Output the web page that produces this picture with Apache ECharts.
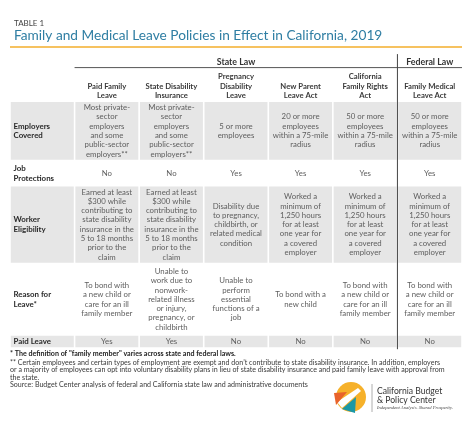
<!DOCTYPE html>
<html><head><meta charset="utf-8">
<script src="https://cdn.jsdelivr.net/npm/echarts@6/dist/echarts.min.js"></script>
<style>html,body{margin:0;padding:0;background:#fff}#c{width:474px;height:426px}</style>
</head><body><div id="c"></div>
<script>
// ---- data ----
const tableLabel = 'TABLE 1';
const titleText = 'Family and Medical Leave Policies in Effect in California, 2019';
const columns = ['', 'Paid Family\nLeave', 'State Disability\nInsurance', 'Pregnancy\nDisability\nLeave', 'New Parent\nLeave Act', 'California\nFamily Rights\nAct', 'Family Medical\nLeave Act'];
const groups = [['State Law', 1, 5], ['Federal Law', 6, 6]];
const rowLabels = ['Employers\nCovered', 'Job\nProtections', 'Worker\nEligibility', 'Reason for\nLeave*', 'Paid Leave'];
const shadedRows = [true, false, true, false, true];
const employersCovered = [
  'Most private-\nsector\nemployers\nand some\npublic-sector\nemployers**',
  'Most private-\nsector\nemployers\nand some\npublic-sector\nemployers**',
  '5 or more\nemployees',
  '20 or more\nemployees\nwithin a 75-mile\nradius',
  '50 or more\nemployees\nwithin a 75-mile\nradius',
  '50 or more\nemployees\nwithin a 75-mile\nradius'
];
const jobProtections = ['No', 'No', 'Yes', 'Yes', 'Yes', 'Yes'];
const workerEligibility = [
  'Earned at least\n$300 while\ncontributing to\nstate disability\ninsurance in the\n5 to 18 months\nprior to the\nclaim',
  'Earned at least\n$300 while\ncontributing to\nstate disability\ninsurance in the\n5 to 18 months\nprior to the\nclaim',
  'Disability due\nto pregnancy,\nchildbirth, or\nrelated medical\ncondition',
  'Worked a\nminimum of\n1,250 hours\nfor at least\none year for\na covered\nemployer',
  'Worked a\nminimum of\n1,250 hours\nfor at least\none year for\na covered\nemployer',
  'Worked a\nminimum of\n1,250 hours\nfor at least\none year for\na covered\nemployer'
];
const reasonForLeave = [
  'To bond with\na new child or\ncare for an ill\nfamily member',
  'Unable to\nwork due to\nnonwork-\nrelated illness\nor injury,\npregnancy, or\nchildbirth',
  'Unable to\nperform\nessential\nfunctions of a\njob',
  'To bond with a\nnew child',
  'To bond with\na new child or\ncare for an ill\nfamily member',
  'To bond with\na new child or\ncare for an ill\nfamily member'
];
const paidLeave = ['Yes', 'Yes', 'No', 'No', 'No', 'No'];
const footnotes = [
  '* The definition of "family member" varies across state and federal laws.',
  '** Certain employees and certain types of employment are exempt and don\u2019t contribute to state disability insurance. In addition, employers',
  'or a majority of employees can opt into voluntary disability plans in lieu of state disability insurance and paid family leave with approval from',
  'the state.',
  'Source: Budget Center analysis of federal and California state law and administrative documents'
];
const logoLines = ['California Budget', '& Policy Center'];
const logoTagline = 'Independent Analysis. Shared Prosperity.';

// ---- build table structure ----
const bodyRows = [employersCovered, jobProtections, workerEligibility, reasonForLeave, paidLeave];
const FONT = 'Lato, "Open Sans", sans-serif';
const nLines = s => s.split('\n').length;
const PAD = 0.22, GAP = 0.32;
const rowHeights = [Math.max(...columns.map(nLines)) + PAD];
bodyRows.forEach((r, i) => rowHeights.push(Math.max(nLines(rowLabels[i]), ...r.map(nLines)) + PAD));
const rowTop = [], rowBot = [];
let acc = 0;
rowHeights.forEach((h, i) => { rowTop.push(acc); acc += h; rowBot.push(acc); acc += GAP; });
const total = rowBot[rowBot.length - 1];

const cells = [];
columns.forEach((c, ci) => cells.push({ value: [ci, 0], text: c, header: true }));
bodyRows.forEach((r, ri) => {
  cells.push({ value: [0, ri + 1], text: rowLabels[ri], label: true, shade: shadedRows[ri] });
  r.forEach((t, ci) => cells.push({ value: [ci + 1, ri + 1], text: t, shade: shadedRows[ri] }));
});

const LH = 9.3;
function renderCell(params, api) {
  const d = cells[params.dataIndex];
  const c = api.value(0), r = api.value(1);
  const bw = api.size([1, 0])[0];
  const pT = api.coord([c, rowTop[r]]);
  const pB = api.coord([c, rowBot[r]]);
  const left = pT[0] - bw / 2;
  const children = [];
  if (d.shade) {
    children.push({ type: 'rect', shape: { x: left + 0.8, y: pT[1], width: bw - 1.6, height: pB[1] - pT[1] }, style: { fill: '#e6e6e6' } });
  }
  if (d.header) {
    children.push({ type: 'text', style: { text: d.text, x: pT[0], y: pB[1] + 1, align: 'center', verticalAlign: 'bottom', fontFamily: FONT, fontWeight: 'bold', fontSize: 7.7, lineHeight: LH, fill: '#3a3a3a' } });
  } else if (d.label) {
    children.push({ type: 'text', style: { text: d.text, x: left + 3.5, y: (pT[1] + pB[1]) / 2, align: 'left', verticalAlign: 'middle', fontFamily: FONT, fontWeight: 'bold', fontSize: 7.9, lineHeight: LH + 0.6, fill: '#2a2a2a' } });
  } else {
    children.push({ type: 'text', style: { text: d.text, x: pT[0], y: (pT[1] + pB[1]) / 2, align: 'center', verticalAlign: 'middle', fontFamily: FONT, fontSize: 7.8, lineHeight: LH, fill: '#5e5e5e' } });
  }
  return { type: 'group', children };
}

function renderGroup(params, api) {
  const c0 = api.value(0), c1 = api.value(1);
  const bw = api.size([1, 0])[0];
  const a = api.coord([c0, 0]), b = api.coord([c1, 0]);
  const left = a[0] - bw / 2, right = b[0] + bw / 2;
  const top = a[1];
  return { type: 'group', children: [
    { type: 'line', shape: { x1: left, y1: top - 1.5, x2: right, y2: top - 1.5 }, style: { stroke: '#555', lineWidth: 1 } },
    { type: 'text', style: { text: groups[params.dataIndex][0], x: (left + right) / 2, y: top - 6.5, align: 'center', verticalAlign: 'middle', fontFamily: FONT, fontWeight: 'bold', fontSize: 8.8, fill: '#333' } }
  ]};
}

function renderDivider(params, api) {
  const c = api.value(0);
  const bw = api.size([1, 0])[0];
  const a = api.coord([c, 0]), b = api.coord([c, total]);
  const x = a[0] - bw / 2;
  return { type: 'line', shape: { x1: x, y1: a[1] - 15, x2: x, y2: b[1] + 2 }, style: { stroke: '#444', lineWidth: 1 } };
}

const chart = echarts.init(document.getElementById('c'), null, { renderer: 'canvas' });
const noteTops = [350.5, 359, 366.5, 374, 381.5];
const noteGraphics = footnotes.map((t, i) => ({
  type: 'text', left: 10, top: noteTops[i],
  style: { text: t, fontFamily: FONT, fontSize: 7.1, fill: i === 0 ? '#222' : '#3a3a3a', fontWeight: i === 0 ? 'bold' : 'normal' }
}));
chart.setOption({
  animation: false,
  backgroundColor: '#fff',
  title: [
    { text: tableLabel, left: 9, top: 14, textStyle: { fontFamily: FONT, fontSize: 8, fontWeight: 'normal', color: '#444' } },
    { text: titleText, left: 9, top: 23.5, textStyle: { fontFamily: FONT, fontSize: 13.7, fontWeight: 'normal', color: '#2f7ea3' } }
  ],
  grid: { left: 10, right: 12, top: 69.1, bottom: 78.8 },
  xAxis: { type: 'category', data: columns.map((c, i) => i), show: false, boundaryGap: true },
  yAxis: { type: 'value', inverse: true, min: 0, max: total, show: false },
  series: [
    { type: 'custom', renderItem: renderCell, data: cells.map(c => c.value), clip: false, silent: true },
    { type: 'custom', renderItem: renderGroup, data: groups.map(g => [g[1], g[2]]), clip: false, silent: true },
    { type: 'custom', renderItem: renderDivider, data: [[6]], clip: false, silent: true }
  ],
  graphic: [
    { type: 'line', shape: { x1: 10, y1: 47, x2: 462, y2: 47 }, style: { stroke: '#f6c260', lineWidth: 2 } },
    ...noteGraphics,
    { type: 'circle', shape: { cx: 351, cy: 397, r: 15 }, style: { fill: '#f6b12a' } },
    { type: 'polygon', shape: { points: [[337, 402], [358, 388], [361, 391], [342, 408]] }, style: { fill: '#fff' } },
    { type: 'polygon', shape: { points: [[334, 393], [347, 392], [336, 405]] }, style: { fill: '#e8632b' } },
    { type: 'polygon', shape: { points: [[356, 397], [355, 413], [342, 409]] }, style: { fill: '#1b98a6' } },
    { type: 'line', shape: { x1: 372, y1: 384, x2: 372, y2: 412 }, style: { stroke: '#999', lineWidth: 0.8 } },
    { type: 'text', left: 377, top: 387, style: { text: logoLines[0], fontFamily: FONT, fontSize: 8.6, fill: '#333' } },
    { type: 'text', left: 377, top: 395.5, style: { text: logoLines[1], fontFamily: FONT, fontSize: 8.6, fill: '#333' } },
    { type: 'text', left: 377, top: 405, style: { text: logoTagline, fontFamily: '"Liberation Serif", serif', fontStyle: 'italic', fontSize: 4.6, fill: '#444' } }
  ]
});
</script></body></html>
